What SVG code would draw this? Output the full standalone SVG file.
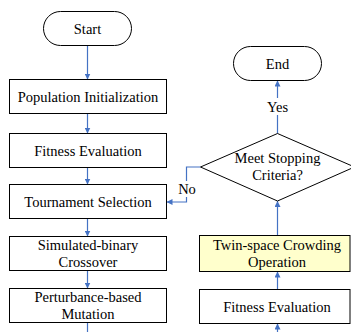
<svg xmlns="http://www.w3.org/2000/svg" width="351" height="332" viewBox="0 0 351 332">
<defs>
<style>
.box{fill:#fff;stroke:#000;stroke-width:1}
.hl{fill:#FFFFCC;stroke:#000;stroke-width:1}
.t{font-size:14.5px;fill:#000;text-anchor:middle}
.c{fill:none;stroke:#4472C4;stroke-width:1.2}
</style>
<marker id="ah" markerUnits="userSpaceOnUse" markerWidth="6" markerHeight="6" refX="6" refY="3" orient="auto">
<path d="M0,0 L6,3 L0,6 z" fill="#4472C4"/>
</marker>
</defs>
<rect width="351" height="332" fill="#fff"/>
<g font-family="'Liberation Serif', 'DejaVu Serif', serif">
<g id="connectors">
<line class="c" x1="87.5" y1="45.5" x2="87.5" y2="79.5" marker-end="url(#ah)"/>
<line class="c" x1="87.5" y1="113.5" x2="87.5" y2="133.5" marker-end="url(#ah)"/>
<line class="c" x1="87.5" y1="167.5" x2="87.5" y2="184.5" marker-end="url(#ah)"/>
<line class="c" x1="87.5" y1="218.5" x2="87.5" y2="236.5" marker-end="url(#ah)"/>
<line class="c" x1="87.5" y1="270.5" x2="87.5" y2="288.5" marker-end="url(#ah)"/>
<line class="c" x1="87.5" y1="322.5" x2="87.5" y2="332"/>
<line class="c" x1="277.5" y1="332" x2="277.5" y2="323.5" marker-end="url(#ah)"/>
<line class="c" x1="277.5" y1="289.5" x2="277.5" y2="271.5" marker-end="url(#ah)"/>
<line class="c" x1="277.5" y1="235.5" x2="277.5" y2="201" marker-end="url(#ah)"/>
<line class="c" x1="277.5" y1="133.5" x2="277.5" y2="80.5" marker-end="url(#ah)"/>
<path class="c" d="M200.5,167 H186.5 V202 H166.5" marker-end="url(#ah)"/>
<rect x="265" y="98" width="25" height="17" fill="#fff"/>
<text class="t" x="277.5" y="112">Yes</text>
<rect x="178" y="181" width="18" height="16" fill="#fff"/>
<text class="t" x="187" y="194">No</text>
</g>
<g id="start">
<rect class="box" x="43.5" y="11.5" width="88" height="34" rx="17"/>
<text class="t" x="87.5" y="33.5">Start</text>
</g>
<g id="pop-init">
<rect class="box" x="9.5" y="79.5" width="157" height="34"/>
<text class="t" x="88" y="101.5">Population Initialization</text>
</g>
<g id="fitness-left">
<rect class="box" x="9.5" y="133.5" width="157" height="34"/>
<text class="t" x="88" y="155.5">Fitness Evaluation</text>
</g>
<g id="tournament">
<rect class="box" x="9.5" y="184.5" width="157" height="34"/>
<text class="t" x="88" y="206.5">Tournament Selection</text>
</g>
<g id="crossover">
<rect class="box" x="9.5" y="236.5" width="157" height="34"/>
<text class="t" x="88" y="250">Simulated-binary</text>
<text class="t" x="88" y="267">Crossover</text>
</g>
<g id="mutation">
<rect class="box" x="9.5" y="288.5" width="157" height="34"/>
<text class="t" x="88" y="302">Perturbance-based</text>
<text class="t" x="88" y="319">Mutation</text>
</g>
<g id="end">
<rect class="box" x="233.5" y="46.5" width="88" height="34" rx="17"/>
<text class="t" x="277.5" y="68.5">End</text>
</g>
<g id="stop-criteria">
<polygon class="box" points="277.5,133.5 354.5,167 277.5,201 200.5,167"/>
<text class="t" x="277.5" y="163">Meet Stopping</text>
<text class="t" x="277.5" y="180">Criteria?</text>
</g>
<g id="crowding">
<rect class="hl" x="199.5" y="235.5" width="150.5" height="36"/>
<text class="t" x="277" y="250">Twin-space Crowding</text>
<text class="t" x="277" y="267">Operation</text>
</g>
<g id="fitness-right">
<rect class="box" x="199.5" y="289.5" width="150.5" height="34"/>
<text class="t" x="277" y="311.5">Fitness Evaluation</text>
</g>
</g>
</svg>
